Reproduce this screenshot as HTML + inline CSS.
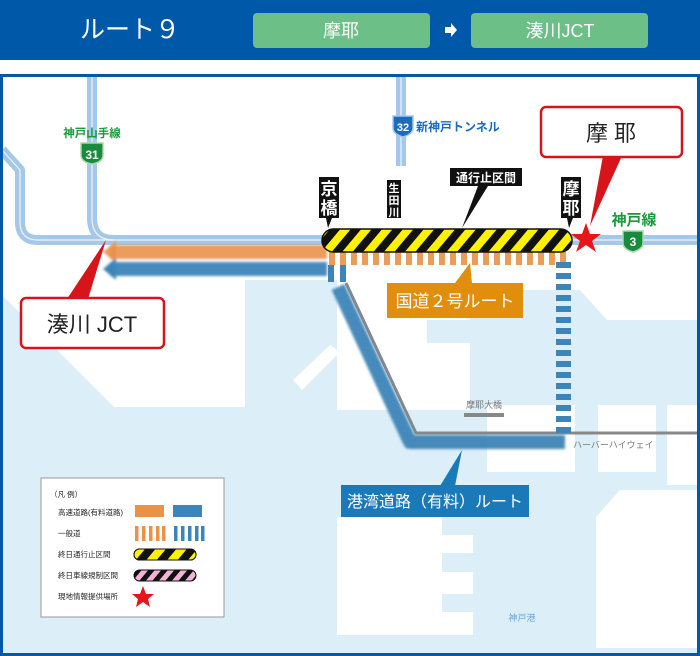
<!DOCTYPE html>
<html><head><meta charset="utf-8"><style>
html,body{margin:0;padding:0;width:700px;height:656px;overflow:hidden;background:#fff}
svg{display:block}
text{font-family:"Liberation Sans","Noto Sans CJK JP",sans-serif}
</style></head><body>
<svg width="700" height="656" viewBox="0 0 700 656" xmlns="http://www.w3.org/2000/svg">
<defs>
<pattern id="hz" patternUnits="userSpaceOnUse" width="16" height="16" patternTransform="rotate(40)">
<rect width="16" height="16" fill="#fff200"/><rect width="8" height="16" fill="#111"/></pattern>
<pattern id="pk" patternUnits="userSpaceOnUse" width="10" height="10" patternTransform="rotate(40)">
<rect width="10" height="10" fill="#f2b3d6"/><rect width="5" height="10" fill="#111"/></pattern>
<filter id="bl"><feGaussianBlur stdDeviation="1.2"/></filter>
</defs>
<!-- header -->
<rect x="0" y="0" width="700" height="60" fill="#0058a8"/>
<text x="80" y="38" fill="#fff" font-size="25">ルート９</text>
<rect x="253" y="13" width="177" height="35" rx="4" fill="#6cbf87"/>
<text x="341" y="37" fill="#fff" font-size="18" text-anchor="middle">摩耶</text>
<polygon points="445,27 451,27 451,23 457,30 451,37 451,33 445,33" fill="#fff"/>
<rect x="471" y="13" width="177" height="35" rx="4" fill="#6cbf87"/>
<text x="560" y="37" fill="#fff" font-size="18" text-anchor="middle">湊川JCT</text>
<!-- map -->
<rect x="0" y="74" width="700" height="582" fill="#dceef8"/>
<g fill="#fff">
<rect x="0" y="74" width="700" height="206"/>
<polygon points="0,280 245,280 245,407 114,407 0,293"/>
<polygon points="232,280 245,280 245,300 236,290"/>
<rect x="337" y="280" width="133" height="40"/>
<rect x="337" y="320" width="90" height="90"/>
<rect x="427" y="343" width="43" height="67"/>
<polygon points="293,380 330,345 340,352 302,390"/>
<rect x="470" y="280" width="230" height="10"/>
<polygon points="580,290 700,290 700,320 607,320"/>
<rect x="487" y="405" width="88" height="67"/>
<rect x="598" y="405" width="58" height="67"/>
<rect x="667" y="405" width="33" height="80"/>
<polygon points="620,490 700,490 700,648 596,648 596,517"/>
<rect x="337" y="517" width="105" height="118"/>
<rect x="442" y="535" width="31" height="18"/>
<rect x="442" y="572" width="31" height="22"/>
<rect x="442" y="612" width="31" height="23"/>
</g>
<g fill="none" stroke-linejoin="round">
<path d="M2,150 L20,170 L20,222 Q20,240 38,240 L700,240" stroke="#a5c8e8" stroke-width="10"/>
<path d="M92,74 L92,218 Q92,240 114,240" stroke="#a5c8e8" stroke-width="10"/>
<path d="M401,74 L401,166" stroke="#a5c8e8" stroke-width="10"/>
<path d="M2,150 L20,170 L20,222 Q20,240 38,240 L700,240" stroke="#fff" stroke-width="1.2" opacity=".8"/>
<path d="M92,74 L92,218 Q92,240 114,240" stroke="#fff" stroke-width="1.2" opacity=".8"/>
<path d="M401,74 L401,166" stroke="#fff" stroke-width="1.2" opacity=".8"/>
<path d="M346,283 L416,433 L700,433" stroke="#888" stroke-width="3"/>
<path d="M338,287 L410,442 L565,442" stroke="#3d85b8" stroke-width="14" filter="url(#bl)" opacity=".95"/>
</g>
<rect x="464" y="413" width="40" height="4" fill="#888"/>
<text x="484" y="408" fill="#777" font-size="9" text-anchor="middle">摩耶大橋</text>
<text x="573" y="448" fill="#777" font-size="9">ハーバーハイウェイ</text>
<text x="522" y="621" fill="#6aa6d6" font-size="9" text-anchor="middle">神戸港</text>
<!-- arrows -->
<g filter="url(#bl)">
<rect x="110" y="245" width="217" height="14" fill="#e8924a" opacity=".9"/>
<polygon points="103,252 116,241 116,263" fill="#e8924a" opacity=".9"/>
<rect x="110" y="262" width="217" height="14" fill="#3d85b8" opacity=".95"/>
<polygon points="103,269 116,258 116,280" fill="#3d85b8"/>
</g>
<!-- orange dashes -->
<g fill="#e8924a" opacity=".9">
<rect x="329" y="252" width="6" height="13"/><rect x="340" y="252" width="6" height="13"/><rect x="351" y="252" width="6" height="13"/><rect x="362" y="252" width="6" height="13"/><rect x="373" y="252" width="6" height="13"/><rect x="384" y="252" width="6" height="13"/><rect x="395" y="252" width="6" height="13"/><rect x="406" y="252" width="6" height="13"/><rect x="417" y="252" width="6" height="13"/><rect x="428" y="252" width="6" height="13"/><rect x="439" y="252" width="6" height="13"/><rect x="450" y="252" width="6" height="13"/><rect x="461" y="252" width="6" height="13"/><rect x="472" y="252" width="6" height="13"/><rect x="483" y="252" width="6" height="13"/><rect x="494" y="252" width="6" height="13"/><rect x="505" y="252" width="6" height="13"/><rect x="516" y="252" width="6" height="13"/><rect x="527" y="252" width="6" height="13"/><rect x="538" y="252" width="6" height="13"/><rect x="549" y="252" width="6" height="13"/><rect x="560" y="252" width="6" height="13"/>
</g>
<g fill="#3d85b8">
<rect x="328" y="265" width="6" height="17"/><rect x="340" y="265" width="6" height="17"/>
<rect x="556" y="262" width="15" height="6"/><rect x="556" y="273" width="15" height="6"/><rect x="556" y="284" width="15" height="6"/><rect x="556" y="295" width="15" height="6"/><rect x="556" y="306" width="15" height="6"/><rect x="556" y="317" width="15" height="6"/><rect x="556" y="328" width="15" height="6"/><rect x="556" y="339" width="15" height="6"/><rect x="556" y="350" width="15" height="6"/><rect x="556" y="361" width="15" height="6"/><rect x="556" y="372" width="15" height="6"/><rect x="556" y="383" width="15" height="6"/><rect x="556" y="394" width="15" height="6"/><rect x="556" y="405" width="15" height="6"/><rect x="556" y="416" width="15" height="6"/><rect x="556" y="427" width="15" height="6"/>
</g>
<!-- hatch bar -->
<rect x="322" y="229" width="250" height="23" rx="11.5" fill="url(#hz)" stroke="#111" stroke-width="1.5"/>
<!-- black labels -->
<g fill="#111">
<rect x="319" y="177" width="20" height="41"/><polygon points="326,218 332,218 328,228"/>
<rect x="387" y="180" width="14" height="38"/>
<rect x="450" y="168" width="72" height="18"/><polygon points="478,186 488,186 462,228"/>
<rect x="561" y="177" width="20" height="41"/><polygon points="567,218 573,218 569,228"/>
</g>
<g fill="#fff" font-weight="bold" text-anchor="middle">
<text x="329" y="195" font-size="17">京</text><text x="329" y="214" font-size="17">橋</text>
<text x="394" y="192" font-size="11">生</text><text x="394" y="204" font-size="11">田</text><text x="394" y="216" font-size="11">川</text>
<text x="486" y="182" font-size="12">通行止区間</text>
<text x="571" y="195" font-size="17">摩</text><text x="571" y="214" font-size="17">耶</text>
</g>
<!-- shields -->
<text x="92" y="137" fill="#1a9a3c" font-size="11.5" font-weight="bold" text-anchor="middle">神戸山手線</text>
<path d="M81,143 H103 V155 Q103,162 92,164 Q81,162 81,155 Z" fill="#1a8a3c" stroke="#a8d8b0" stroke-width="1.5"/>
<text x="92" y="159" fill="#fff" font-size="12" font-weight="bold" text-anchor="middle">31</text>
<path d="M393,116 H413 V128 Q413,134 403,137 Q393,134 393,128 Z" fill="#1a6cc0" stroke="#a5c8e8" stroke-width="1.5"/>
<text x="403" y="131" fill="#fff" font-size="11" font-weight="bold" text-anchor="middle">32</text>
<text x="416" y="131" fill="#1a6cc0" font-size="12" font-weight="bold">新神戸トンネル</text>
<text x="634" y="225" fill="#1a9a3c" font-size="15" font-weight="bold" text-anchor="middle">神戸線</text>
<path d="M623,231 H643 V243 Q643,249 633,252 Q623,249 623,243 Z" fill="#1a8a3c" stroke="#a8d8b0" stroke-width="1.5"/>
<text x="633" y="246" fill="#fff" font-size="12" font-weight="bold" text-anchor="middle">3</text>
<!-- callouts -->
<polygon points="603,156 622,156 590,226" fill="#d7141a"/>
<rect x="541" y="107" width="141" height="50" rx="5" fill="#fff" stroke="#d7141a" stroke-width="2.5"/>
<text x="611" y="141" fill="#222" font-size="22" text-anchor="middle">摩 耶</text>
<polygon points="586,223 590,234 601,234 592,241 596,252 586,245 576,252 580,241 571,234 582,234" fill="#e8141a"/>
<polygon points="67,299 88,299 106,240" fill="#d7141a"/>
<rect x="21" y="298" width="143" height="50" rx="5" fill="#fff" stroke="#d7141a" stroke-width="2.5"/>
<text x="92" y="332" fill="#222" font-size="22" text-anchor="middle">湊川 JCT</text>
<!-- route labels -->
<polygon points="455,283 472,283 470,263" fill="#e08e0b"/>
<rect x="387" y="283" width="136" height="35" fill="#e08e0b"/>
<text x="455" y="307" fill="#fff" font-size="17" text-anchor="middle">国道２号ルート</text>
<polygon points="440,486 455,486 462,450" fill="#1a79b8"/>
<rect x="341" y="485" width="188" height="32" fill="#1a79b8"/>
<text x="435" y="507" fill="#fff" font-size="16" text-anchor="middle">港湾道路（有料）ルート</text>
<!-- legend -->
<rect x="41" y="478" width="183" height="139" fill="#fff" stroke="#999" stroke-width="1"/>
<g fill="#222" font-size="7.5">
<text x="50" y="497">（凡 例）</text>
<text x="58" y="515">高速道路(有料道路)</text>
<text x="58" y="536">一般道</text>
<text x="58" y="557">終日通行止区間</text>
<text x="58" y="578">終日車線規制区間</text>
<text x="58" y="599">現地情報提供場所</text>
</g>
<rect x="135" y="505" width="29" height="12" fill="#e8924a"/>
<rect x="173" y="505" width="29" height="12" fill="#3d85b8"/>
<g fill="#e8924a"><rect x="135" y="526" width="3.5" height="15"/><rect x="142" y="526" width="3.5" height="15"/><rect x="149" y="526" width="3.5" height="15"/><rect x="156" y="526" width="3.5" height="15"/><rect x="162" y="526" width="3.5" height="15"/></g>
<g fill="#3d85b8"><rect x="174" y="526" width="3.5" height="15"/><rect x="181" y="526" width="3.5" height="15"/><rect x="188" y="526" width="3.5" height="15"/><rect x="195" y="526" width="3.5" height="15"/><rect x="201" y="526" width="3.5" height="15"/></g>
<rect x="134" y="549" width="62" height="11" rx="5.5" fill="url(#pk)" stroke="#111" stroke-width="1"/>
<rect x="134" y="549" width="62" height="11" rx="5.5" fill="url(#hz)" stroke="#111" stroke-width="1" transform="translate(0,0)"/>
<rect x="134" y="570" width="62" height="11" rx="5.5" fill="url(#pk)" stroke="#111" stroke-width="1"/>
<polygon points="143,586 146,594 154,594 148,599 150,607 143,602 136,607 138,599 132,594 140,594" fill="#e8141a"/>
<!-- frame -->
<rect x="1.5" y="75.5" width="697" height="579" fill="none" stroke="#0058a8" stroke-width="3"/>
</svg>
</body></html>
